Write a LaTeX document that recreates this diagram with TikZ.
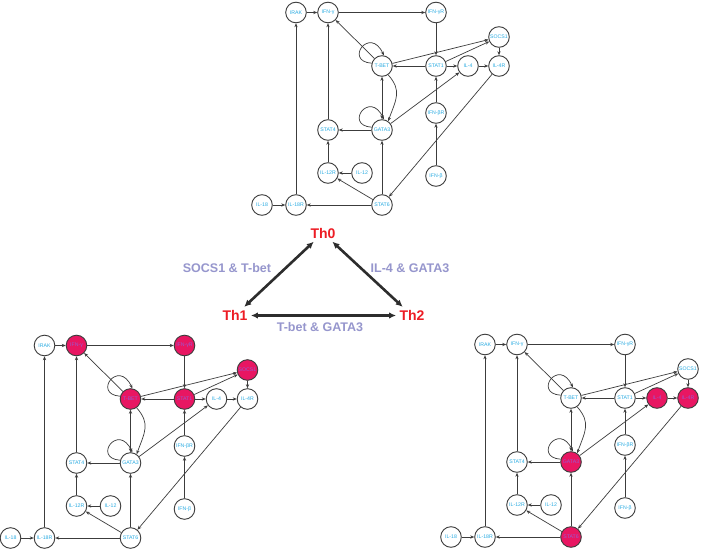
\documentclass[tikz,border=0pt]{standalone}
\usepackage{fontspec}
\setmainfont{Liberation Sans}
\usetikzlibrary{arrows.meta}
\definecolor{nodetext}{RGB}{41,171,226}
\definecolor{hlfill}{RGB}{232,22,98}
\definecolor{hltext}{RGB}{150,90,210}
\definecolor{edgecol}{RGB}{60,60,60}
\definecolor{thred}{RGB}{237,28,36}
\definecolor{lav}{RGB}{150,150,205}
\definecolor{tharrow}{RGB}{45,45,45}
\tikzset{
  gene/.style={circle, draw=edgecol, line width=0.9pt, minimum size=20.6pt, inner sep=0pt,
    fill=white, text=nodetext, font=\fontsize{5.2}{6}\selectfont},
  hl/.style={fill=hlfill, text=hltext},
  edge/.style={draw=edgecol, line width=0.7pt, -{Stealth[length=4pt,width=3.2pt]}},
  biedge/.style={draw=edgecol, line width=0.7pt, {Stealth[length=4pt,width=3.2pt]}-{Stealth[length=4pt,width=3.2pt]}},
  thlabel/.style={text=thred, font=\fontsize{14}{16}\selectfont\bfseries},
  condlabel/.style={text=lav, font=\fontsize{12.5}{14}\selectfont\bfseries},
  tharr/.style={draw=tharrow, line width=2.6pt, {Latex[length=7pt,width=6.5pt]}-{Latex[length=7pt,width=6.5pt]}},
  hlIRAK/.style={}, hlIFNg/.style={}, hlIFNgR/.style={}, hlSOCS/.style={},
  hlTBET/.style={}, hlSTATa/.style={}, hlILfour/.style={}, hlILfourR/.style={},
  hlSTATfour/.style={}, hlGATA/.style={}, hlIFNbR/.style={}, hlILtwR/.style={},
  hlILtw/.style={}, hlIFNb/.style={}, hlILei/.style={}, hlILeiR/.style={}, hlSTATsix/.style={}
}
\newcommand\genenet[1]{%
  \node[gene,hlIRAK]    (#1IRAK)   at (296,12.5) {IRAK};
  \node[gene,hlIFNg]    (#1IFNg)   at (328,12.5) {IFN-γ};
  \node[gene,hlIFNgR]   (#1IFNgR)  at (436,12.5) {IFN-γR};
  \node[gene,hlSOCS]    (#1SOCS)   at (499,37) {SOCS1};
  \node[gene,hlTBET]    (#1TBET)   at (382,66) {T-BET};
  \node[gene,hlSTATa]   (#1STATa)  at (436,66) {STAT1};
  \node[gene,hlILfour]  (#1ILfour) at (468,66) {IL-4};
  \node[gene,hlILfourR] (#1ILfourR) at (499,66) {IL-4R};
  \node[gene,hlSTATfour] (#1STATfour) at (328,130) {STAT4};
  \node[gene,hlGATA]    (#1GATA)   at (382,130) {GATA3};
  \node[gene,hlIFNbR]   (#1IFNbR)  at (436,113) {IFN-βR};
  \node[gene,hlILtwR]   (#1ILtwR)  at (328,173) {IL-12R};
  \node[gene,hlILtw]    (#1ILtw)   at (362,173) {IL-12};
  \node[gene,hlIFNb]    (#1IFNb)   at (436,176) {IFN-β};
  \node[gene,hlILei]    (#1ILei)   at (262,205) {IL-18};
  \node[gene,hlILeiR]   (#1ILeiR)  at (296,205) {IL-18R};
  \node[gene,hlSTATsix] (#1STATsix) at (382,205) {STAT6};
  \draw[edge] (#1IRAK) -- (#1IFNg);
  \draw[edge] (#1IFNg) -- (#1IFNgR);
  \draw[edge] (#1IFNgR) -- (#1STATa);
  \draw[edge] (#1STATa) -- (#1TBET);
  \draw[edge] (#1STATa) -- (#1ILfour);
  \draw[edge] (#1ILfour) -- (#1ILfourR);
  \draw[edge] (#1SOCS) -- (#1ILfourR);
  \draw[edge] (#1TBET) -- (#1SOCS);
  \draw[edge] (#1STATa) -- (#1SOCS);
  \draw[edge] (#1TBET) -- (#1IFNg);
  \draw[edge] (#1TBET.165) .. controls +(-28,-2) and +(-14,-30) .. (#1TBET.80);
  \draw[biedge] (#1TBET) -- (#1GATA);
  \draw[edge] (#1TBET.-55) .. controls +(14,16) and +(8,-22) .. (#1GATA.55);
  \draw[edge] (#1GATA.165) .. controls +(-28,-2) and +(-14,-30) .. (#1GATA.80);
  \draw[edge] (#1GATA) -- (#1STATfour);
  \draw[edge] (#1STATfour) -- (#1IFNg);
  \draw[edge] (#1ILtwR) -- (#1STATfour);
  \draw[edge] (#1ILtw) -- (#1ILtwR);
  \draw[edge] (#1STATsix) -- (#1ILtwR);
  \draw[edge] (#1STATsix) -- (#1ILeiR);
  \draw[edge] (#1ILei) -- (#1ILeiR);
  \draw[edge] (#1ILeiR) -- (#1IRAK);
  \draw[edge] (#1STATsix) -- (#1GATA);
  \draw[edge] (#1ILfourR) -- (#1STATsix);
  \draw[edge] (#1IFNbR) -- (#1STATa);
  \draw[edge] (#1IFNb) -- (#1IFNbR);
  \draw[edge] (#1GATA) -- (#1ILfour);
}
\begin{document}
\begin{tikzpicture}[x=1pt,y=-1pt]
\useasboundingbox[fill=white] (0,0) rectangle (702,551);
\begin{scope}
  \genenet{T}
\end{scope}
\begin{scope}[shift={(-251.5,333)},
  hlIFNg/.style={hl}, hlIFNgR/.style={hl}, hlSOCS/.style={hl}, hlTBET/.style={hl}, hlSTATa/.style={hl}]
  \genenet{L}
\end{scope}
\begin{scope}[shift={(189,332)},
  hlILfour/.style={hl}, hlILfourR/.style={hl}, hlGATA/.style={hl}, hlSTATsix/.style={hl}]
  \genenet{R}
\end{scope}
\node[thlabel] (Th0) at (323,233) {Th0};
\node[thlabel] (Th1) at (235,315.5) {Th1};
\node[thlabel] (Th2) at (412,315.5) {Th2};
\draw[tharr] (Th0) -- (Th1);
\draw[tharr] (Th0) -- (Th2);
\draw[tharr] (Th1) -- (Th2);
\node[condlabel] (c1) at (227,268) {SOCS1 \& T-bet};
\node[condlabel] (c2) at (410,268) {IL-4 \& GATA3};
\node[condlabel] (c3) at (320,327) {T-bet \& GATA3};
\end{tikzpicture}
\end{document}
